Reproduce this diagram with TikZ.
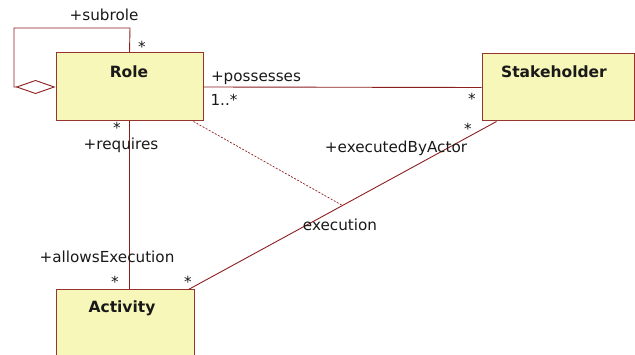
\documentclass[tikz,border=0pt]{standalone}
\usepackage{fontspec}
\setmainfont{DejaVu Sans}
\usetikzlibrary{arrows.meta,calc}
\definecolor{boxfill}{RGB}{247,247,185}
\definecolor{boxline}{RGB}{150,52,48}
\definecolor{assoc}{RGB}{140,30,30}
\definecolor{ink}{RGB}{25,25,25}
\tikzset{
  classbox/.style={draw=boxline, line width=1pt, fill=boxfill, rectangle, inner sep=0pt},
  title/.style={font=\fontsize{15.5}{18}\selectfont\bfseries, text=ink, inner sep=0pt},
  role label/.style={font=\fontsize{15.2}{18}\selectfont, text=ink, inner sep=0pt},
  assocline/.style={draw=assoc, line width=0.9pt},
}
\begin{document}
\begin{tikzpicture}[x=1pt,y=-1pt]
\useasboundingbox (0,0) rectangle (635,355);

% classes
\node[classbox, minimum width=147pt, minimum height=68pt] (role) at (129.5,87) {};
\node[classbox, minimum width=152pt, minimum height=67pt] (stake) at (558,87.5) {};
\node[classbox, minimum width=138pt, minimum height=80pt] (act) at (125,330) {};
\node[title] (roleT) at (129,72) {Role};
\node[title] (stakeT) at (554,72) {Stakeholder};
\node[title] (actT) at (122,308) {Activity};

% associations
\coordinate (loopA) at (130,28);
\coordinate (loopB) at (14,28);
\draw[assocline, -{Diamond[open,length=40pt,width=14pt,line width=0.9pt]}]
  (role.north) -- (loopA) -- (loopB) |- (role.west);
\draw[assocline] (role.east) -- (stake.west);
\draw[assocline] (role.south) -- (role.south |- act.north);
\coordinate (sA) at ([xshift=15pt]stake.south west);
\coordinate (aA) at ([xshift=-6pt]act.north east);
\draw[assocline] (sA) -- (aA);
\coordinate (mid) at ($(sA)!0.5!(aA)$);
\draw[assocline, dashed, dash pattern=on 2pt off 1.5pt, line width=0.7pt]
  ([xshift=-10pt]role.south east) -- (mid);

% role names and multiplicities
\node[role label] (l1) at (104,15) {+subrole};
\node[role label] (l2) at (142,47) {*};
\node[role label] (l3) at (256,78) {+possesses};
\node[role label] (l4) at (224,100) {1..*};
\node[role label] (l5) at (472,99) {*};
\node[role label] (l6) at (468,129) {*};
\node[role label] (l7) at (396,148) {+executedByActor};
\node[role label] (l8) at (117,127.5) {*};
\node[role label] (l9) at (121,145) {+requires};
\node[role label] (l10) at (340,225) {execution};
\node[role label] (l11) at (107,257) {+allowsExecution};
\node[role label] (l12) at (115,282) {*};
\node[role label] (l13) at (188,282) {*};
\end{tikzpicture}
\end{document}
